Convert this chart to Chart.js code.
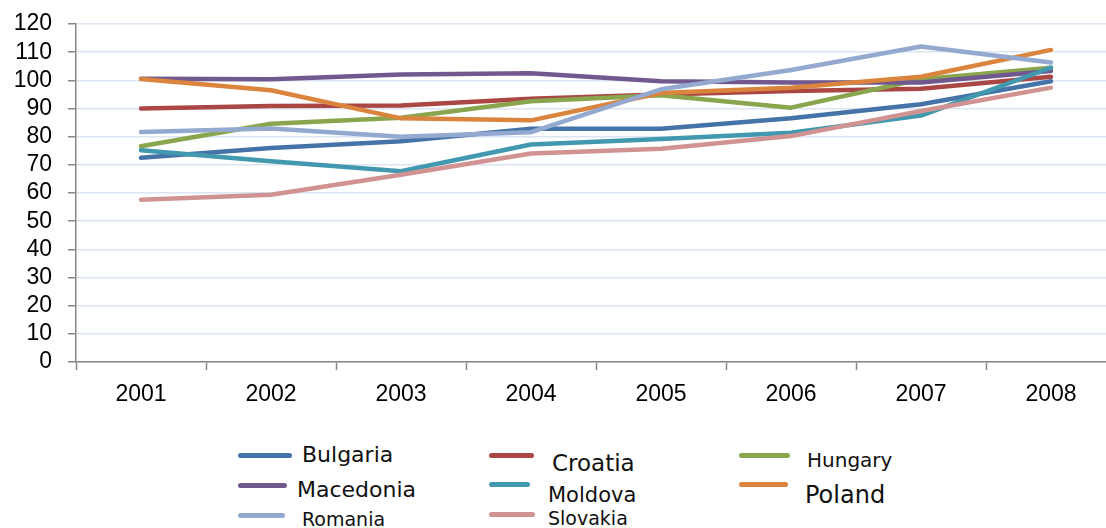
<!DOCTYPE html>
<html>
<head>
<meta charset="utf-8">
<script src="https://cdn.jsdelivr.net/npm/chart.js@4/dist/chart.umd.min.js"></script>
<style>
    html, body { margin: 0; padding: 0; background: #fff; overflow: hidden; }
    #wrap { position: relative; width: 1106px; height: 528px; overflow: hidden; }
    #chart { position: absolute; left: 0; top: 0; }
    .lg-line { position: absolute; height: 5px; border-radius: 3px; }
    .lg-text { position: absolute; font-family: "DejaVu Sans", sans-serif; color: #111; line-height: 1; white-space: nowrap; }
</style>
</head>
<body>
<div id="wrap">
    <canvas id="chart" width="1120" height="420"></canvas>
</div>
<script>
// data
const years = ['2001', '2002', '2003', '2004', '2005', '2006', '2007', '2008'];
const countries = ['Bulgaria', 'Croatia', 'Hungary', 'Macedonia', 'Moldova', 'Poland', 'Romania', 'Slovakia'];

const bulgaria  = [72.5, 76.0, 78.4, 82.8, 82.8, 86.5, 91.5, 99.7];
const croatia   = [90.0, 90.9, 91.1, 93.5, 95.0, 96.2, 97.0, 101.3];
const hungary   = [76.6, 84.6, 86.7, 92.6, 94.7, 90.3, 100.4, 104.5];
const macedonia = [100.6, 100.4, 102.1, 102.5, 99.7, 99.2, 99.2, 103.3];
const moldova   = [75.2, 71.3, 67.7, 77.2, 79.2, 81.4, 87.5, 104.5];
const poland    = [100.5, 96.5, 86.5, 85.8, 95.5, 97.4, 101.3, 110.8];
const romania   = [81.7, 82.9, 80.0, 81.6, 96.8, 103.7, 112.0, 106.3];
const slovakia  = [57.6, 59.4, 66.5, 74.0, 75.7, 80.2, 89.1, 97.4];

const series = [bulgaria, croatia, hungary, macedonia, moldova, poland, romania, slovakia];

// styles
const colors = ['#4572A7', '#AA4643', '#89A54E', '#71588F', '#4198AF', '#DB843D', '#93A9CF', '#D19392'];

// legend placement (x of line, y of line, line length, x of text, baseline, font size)
const legendLayout = [
    [238, 455, 54, 302, 463, 22],
    [489, 455, 45, 552, 471, 23],
    [739, 455, 51, 807, 467, 20],
    [238, 485, 49, 297, 498, 22],
    [489, 484, 41, 548, 503, 21],
    [739, 484, 49, 805, 503, 24],
    [238, 515, 47, 302, 526, 19],
    [489, 514, 46, 548, 525, 19]
];

const datasets = countries.map((name, i) => ({
    label: name,
    data: series[i],
    borderColor: colors[i],
    backgroundColor: colors[i],
    borderWidth: 4.5,
    borderCapStyle: 'round',
    borderJoinStyle: 'round',
    pointRadius: 0,
    tension: 0,
    fill: false,
    order: countries.length - 1 - i // later series on top
}));

const axisFont = { family: "'Liberation Sans', Arial, sans-serif", size: 23 };

const ctx = document.getElementById('chart').getContext('2d');
const chart = new Chart(ctx, {
    type: 'line',
    data: { labels: years, datasets: datasets },
    options: {
        responsive: false,
        animation: false,
        devicePixelRatio: 1,
        layout: { padding: { top: 24, right: 4, bottom: 0, left: 0 } },
        plugins: { legend: { display: false }, tooltip: { enabled: false } },
        scales: {
            x: {
                offset: true,
                grid: {
                    offset: true,
                    drawOnChartArea: false,
                    drawTicks: true,
                    tickLength: 8,
                    tickColor: '#878787',
                    tickWidth: 1.5
                },
                border: { display: true, color: '#878787', width: 1.5 },
                ticks: { color: '#000', font: axisFont, padding: 11, maxRotation: 0, autoSkip: false },
                afterFit: (s) => { s.height = 58; }
            },
            y: {
                min: 0,
                max: 120,
                ticks: { stepSize: 10, color: '#000', font: axisFont, padding: 16, autoSkip: false },
                grid: {
                    color: '#DCE6F2',
                    lineWidth: 1.5,
                    drawTicks: true,
                    tickLength: 8,
                    tickColor: '#878787',
                    tickWidth: 1.5
                },
                border: { display: true, color: '#878787', width: 1.5 },
                afterFit: (s) => {
                    s.width = 76;
                    s.paddingTop = 0;
                    s.paddingBottom = 0;
                }
            }
        }
    }
});

// legend below the chart
const wrap = document.getElementById('wrap');
countries.forEach((name, i) => {
    const [lx, ly, len, tx, base, size] = legendLayout[i];
    const line = document.createElement('div');
    line.className = 'lg-line';
    line.style.left = lx + 'px';
    line.style.top = (ly - 2.5) + 'px';
    line.style.width = len + 'px';
    line.style.background = colors[i];
    wrap.appendChild(line);

    const txt = document.createElement('div');
    txt.className = 'lg-text';
    txt.style.fontSize = size + 'px';
    txt.style.left = tx + 'px';
    txt.style.top = (base - 0.846 * size) + 'px';
    txt.textContent = name;
    wrap.appendChild(txt);
});
</script>
</body>
</html>
